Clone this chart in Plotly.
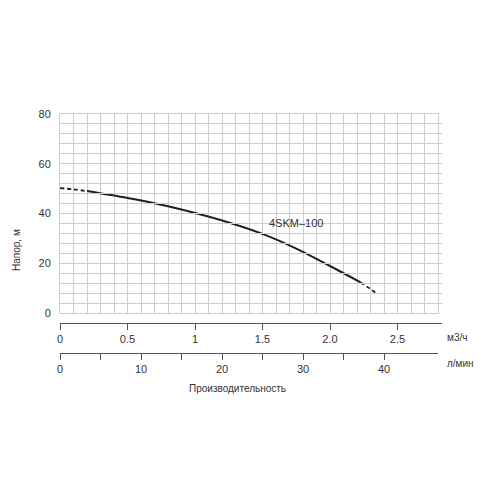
import plotly.graph_objects as go

# Data (flow m3/h, head m)
q_dash_start = [0.0, 0.1, 0.2]
h_dash_start = [50.2, 49.7, 49.0]
q_solid = [0.2, 0.5, 0.75, 1.0, 1.25, 1.5, 1.75, 2.0, 2.227]
h_solid = [49.0, 46.2, 43.5, 40.2, 36.4, 31.8, 25.9, 18.9, 12.3]
q_dash_end = [2.227, 2.29, 2.356]
h_dash_end = [12.3, 10.0, 7.5]

y_ticks = [0, 20, 40, 60, 80]
m3h_ticks = [0, 0.5, 1, 1.5, 2.0, 2.5]
m3h_labels = ["0", "0.5", "1", "1.5", "2.0", "2.5"]
lmin_ticks = [0, 5, 10, 15, 20, 25, 30, 35, 40]
lmin_labels = ["0", "", "10", "", "20", "", "30", "", "40"]

FONT = "Liberation Sans, Arial, sans-serif"
TXT = "#333333"
GRID = "#cccccc"

fig = go.Figure()
line_col = "#231f20"
# invisible traces to attach secondary axes (added first so they sit below)
fig.add_trace(go.Scatter(x=[0], y=[0], xaxis="x2", yaxis="y", mode="markers",
                         marker=dict(opacity=0), hoverinfo="skip"))
fig.add_trace(go.Scatter(x=[0], y=[0], xaxis="x3", yaxis="y", mode="markers",
                         marker=dict(opacity=0), hoverinfo="skip"))
fig.add_trace(go.Scatter(x=q_dash_start, y=h_dash_start, mode="lines",
                         line=dict(color=line_col, width=1.8, dash="4px,3px", shape="spline"),
                         hoverinfo="skip"))
fig.add_trace(go.Scatter(x=q_solid, y=h_solid, mode="lines",
                         line=dict(color=line_col, width=2, shape="spline"), hoverinfo="skip"))
fig.add_trace(go.Scatter(x=q_dash_end, y=h_dash_end, mode="lines",
                         line=dict(color=line_col, width=1.8, dash="4px,3px", shape="spline"),
                         hoverinfo="skip"))

L, R, T, B = 60, 58, 114, 100
W = 500 - L - R          # 382
H = 500 - T - B          # 286
main_right = (438 - L) / W
ydom0 = (400 - 313) / H

fig.update_layout(
    width=500, height=500,
    margin=dict(l=L, r=R, t=T, b=B),
    paper_bgcolor="white", plot_bgcolor="rgba(0,0,0,0)",
    showlegend=False,
    font=dict(family=FONT, size=11, color=TXT),
    xaxis=dict(domain=[0, main_right], range=[0, 2.8], dtick=0.1, tick0=0,
               showgrid=True, gridcolor=GRID, gridwidth=1, showticklabels=False,
               ticks="", zeroline=False, showline=True, linecolor=GRID, mirror=True,
               anchor="y"),
    yaxis=dict(domain=[ydom0, 1], range=[0, 80],
               showgrid=True, gridcolor=GRID, gridwidth=1,
               tickvals=list(range(0, 81, 4)),
               ticktext=[str(v) if v in y_ticks else "" for v in range(0, 81, 4)],
               ticks="", zeroline=False, showline=True, linecolor=GRID, mirror=True,
               ticklabelstandoff=6, anchor="x"),
    xaxis2=dict(domain=[0, 1], range=[0, 2.8 / main_right], anchor="free",
                position=(400 - 323) / H,
                tickvals=m3h_ticks, ticktext=m3h_labels,
                ticks="outside", ticklen=6, tickcolor="#555555", tickwidth=1,
                showline=True, linecolor="#555555", linewidth=1,
                showgrid=False, zeroline=False),
    xaxis3=dict(domain=[0, main_right], range=[0, 2.8 * 1000 / 60], anchor="free",
                position=(400 - 353) / H,
                tickvals=lmin_ticks, ticktext=lmin_labels,
                ticks="outside", ticklen=6, tickcolor="#555555", tickwidth=1,
                showline=True, linecolor="#555555", linewidth=1,
                showgrid=False, zeroline=False),
)

fig.add_annotation(x=1.53, y=36.3, xref="x", yref="y", text="4SKM–100",
                   showarrow=False, xanchor="left", yanchor="middle",
                   font=dict(size=11, color=TXT))
fig.add_annotation(x=(445 - L) / W, y=(400 - 337) / H, xref="paper", yref="paper",
                   text="м3/ч", showarrow=False, xanchor="left", yanchor="middle",
                   font=dict(size=10, color=TXT))
fig.add_annotation(x=(445 - L) / W, y=(400 - 363) / H, xref="paper", yref="paper",
                   text="л/мин", showarrow=False, xanchor="left", yanchor="middle",
                   font=dict(size=10, color=TXT))
fig.add_annotation(x=(237 - L) / W, y=(400 - 388) / H, xref="paper", yref="paper",
                   text="Производительность", showarrow=False, xanchor="center",
                   yanchor="middle", font=dict(size=10, color=TXT))
fig.add_annotation(x=(16 - L) / W, y=(400 - 250) / H, xref="paper", yref="paper",
                   text="Напор, м", showarrow=False, textangle=-90,
                   xanchor="center", yanchor="middle", font=dict(size=10, color=TXT))

fig.write_html("out.html")
